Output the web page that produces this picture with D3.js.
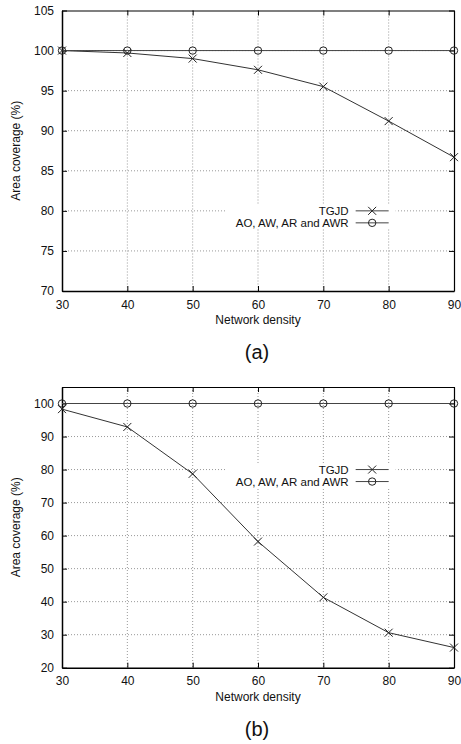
<!DOCTYPE html>
<html>
<head>
<meta charset="utf-8">
<script src="https://cdn.jsdelivr.net/npm/d3@7"></script>
<style>
  body { margin: 0; background: #fff; }
  svg { display: block; font-family: "Liberation Sans", Arial, Helvetica, sans-serif; }
  .grid line { stroke: #999; stroke-dasharray: 1,2; stroke-width: 1; }
  .axis path, .axis line { stroke: #000; }
  .axis text { font-size: 12px; fill: #111; }
  .axis-title { font-size: 12px; fill: #111; }
  .legend text { font-size: 11.5px; fill: #111; }
  .caption { font-size: 20px; fill: #111; }
</style>
</head>
<body>
<div id="chart"></div>
<script>
// shared x values (network density)
const density = [30, 40, 50, 60, 70, 80, 90];

// panel (a)
const tgjdA = [100, 99.7, 99.0, 97.6, 95.5, 91.2, 86.7];
const otherA = [100, 100, 100, 100, 100, 100, 100];
const yTicksA = [70, 75, 80, 85, 90, 95, 100, 105];

// panel (b)
const tgjdB = [98.3, 92.9, 78.7, 58.2, 41.3, 30.6, 26.1];
const otherB = [100, 100, 100, 100, 100, 100, 100];
const yTicksB = [20, 30, 40, 50, 60, 70, 80, 90, 100];

const seriesNames = ['TGJD', 'AO, AW, AR and AWR'];

const W = 461, H = 744;
const svg = d3.select('#chart').append('svg')
    .attr('width', W)
    .attr('height', H);

function drawPanel(cfg) {
  const m = cfg.margin;
  const width = 454 - m.left;
  const height = cfg.bottom - m.top;

  const g = svg.append('g')
      .attr('transform', `translate(${m.left},${m.top})`);

  const x = d3.scaleLinear().domain([30, 90]).range([0, width]);
  const y = d3.scaleLinear().domain(cfg.yDomain).range([height, 0]);

  // grid
  const grid = g.append('g').attr('class', 'grid');
  grid.selectAll('.vg')
      .data(density.slice(1, -1))
    .join('line')
      .attr('x1', d => x(d)).attr('x2', d => x(d))
      .attr('y1', 0).attr('y2', height);
  grid.selectAll('.hg')
      .data(cfg.yTicks.slice(1, -1))
    .join('line')
      .attr('x1', 0).attr('x2', width)
      .attr('y1', d => y(d)).attr('y2', d => y(d));

  // axes, ticks pointing inward on all four sides
  g.append('g').attr('class', 'axis')
      .attr('transform', `translate(0,${height})`)
      .call(d3.axisBottom(x).tickValues(density).tickSizeInner(-5).tickSizeOuter(0).tickPadding(9))
      .call(a => a.select('.domain').attr('stroke-width', 1.5));
  g.append('g').attr('class', 'axis')
      .call(d3.axisTop(x).tickValues(density).tickSizeInner(-5).tickSizeOuter(0).tickFormat(''))
      .call(a => a.select('.domain').attr('stroke-width', 1.2));
  g.append('g').attr('class', 'axis')
      .call(d3.axisLeft(y).tickValues(cfg.yTicks).tickSizeInner(-5).tickSizeOuter(0).tickPadding(8))
      .call(a => a.select('.domain').attr('stroke-width', 1.5));
  g.append('g').attr('class', 'axis')
      .attr('transform', `translate(${width},0)`)
      .call(d3.axisRight(y).tickValues(cfg.yTicks).tickSizeInner(-5).tickSizeOuter(0).tickFormat(''))
      .call(a => a.select('.domain').attr('stroke-width', 1.2));
  g.selectAll('.axis .tick line').attr('stroke', '#222');

  // legend (white box hides grid beneath)
  const lx = x(80), ly = y(80);
  const legend = g.append('g').attr('class', 'legend');
  legend.append('rect')
      .attr('x', lx - 162).attr('y', ly - 6)
      .attr('width', 169).attr('height', 24)
      .attr('fill', '#fff');

  const line = d3.line().x((d, i) => x(density[i])).y(d => y(d));
  const series = [cfg.tgjd, cfg.other];

  series.forEach((vals, k) => {
    g.append('path')
        .datum(vals)
        .attr('fill', 'none')
        .attr('stroke', k === 0 ? '#333' : '#444')
        .attr('stroke-width', 1)
        .attr('d', line);
  });

  function marker(sel, k) {
    if (k === 0) {
      sel.append('path')
          .attr('d', 'M-4,-4L4,4M-4,4L4,-4')
          .attr('stroke', '#222').attr('stroke-width', 1).attr('fill', 'none');
    } else {
      sel.append('circle')
          .attr('r', 3.7)
          .attr('stroke', '#222').attr('stroke-width', 1).attr('fill', 'none');
    }
  }

  series.forEach((vals, k) => {
    vals.forEach((v, i) => {
      const mk = g.append('g').attr('transform', `translate(${x(density[i])},${y(v)})`);
      marker(mk, k);
    });
  });

  seriesNames.forEach((name, k) => {
    const ry = ly + k * 12;
    legend.append('text')
        .attr('x', lx - 40).attr('y', ry)
        .attr('dy', '0.35em')
        .attr('text-anchor', 'end')
        .text(name);
    legend.append('line')
        .attr('x1', lx - 33).attr('x2', lx)
        .attr('y1', ry).attr('y2', ry)
        .attr('stroke', '#444');
    const mk = legend.append('g').attr('transform', `translate(${lx - 16.5},${ry})`);
    marker(mk, k);
  });

  // axis titles
  svg.append('text')
      .attr('class', 'axis-title')
      .attr('transform', `translate(20,${m.top + height / 2}) rotate(-90)`)
      .attr('text-anchor', 'middle')
      .text('Area coverage (%)');
  svg.append('text')
      .attr('class', 'axis-title')
      .attr('x', m.left + width / 2).attr('y', cfg.bottom + 33)
      .attr('text-anchor', 'middle')
      .text('Network density');
  svg.append('text')
      .attr('class', 'caption')
      .attr('x', m.left + width / 2 - 1).attr('y', cfg.bottom + 68)
      .attr('text-anchor', 'middle')
      .text(cfg.caption);
}

drawPanel({margin: {top: 10.5, left: 62}, bottom: 291, yDomain: [70, 105], yTicks: yTicksA,
  tgjd: tgjdA, other: otherA, caption: '(a)'});
drawPanel({margin: {top: 387, left: 62}, bottom: 667.7, yDomain: [20, 105], yTicks: yTicksB,
  tgjd: tgjdB, other: otherB, caption: '(b)'});
</script>
</body>
</html>
